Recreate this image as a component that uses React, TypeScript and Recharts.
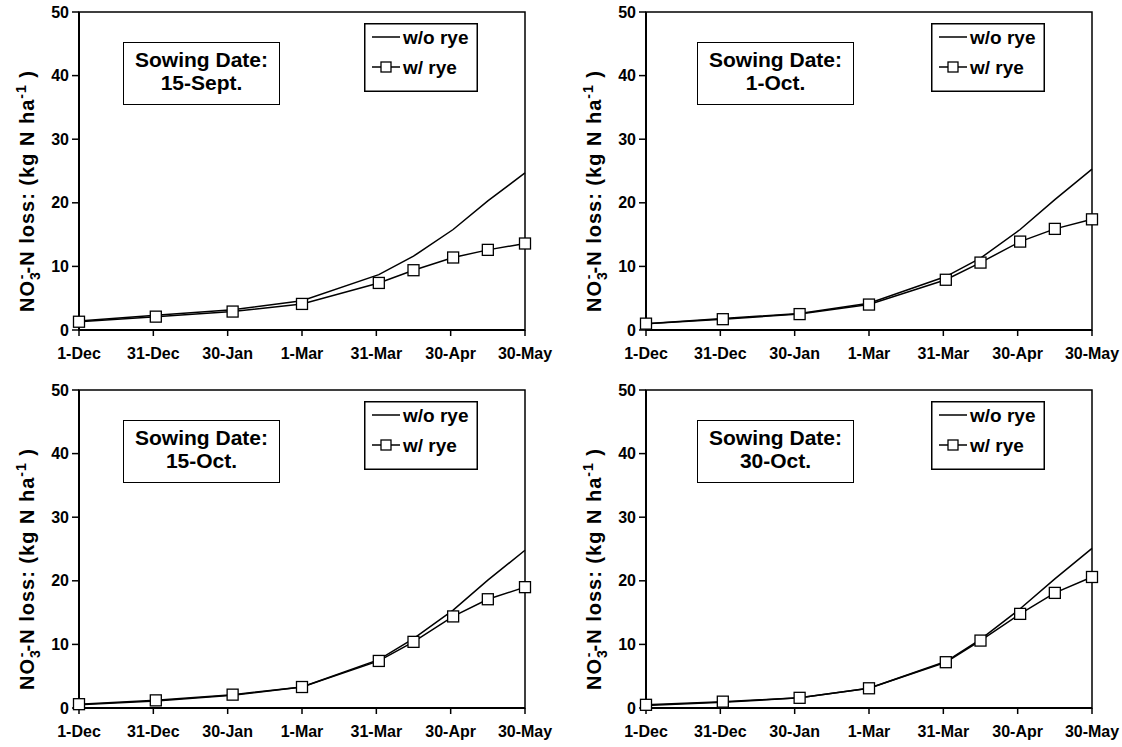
import React from 'react';
import { LineChart, Line, XAxis, YAxis, ReferenceArea } from 'recharts';

// days after 1-Dec for each sample point
const DAYS = [0, 31, 62, 90, 121, 135, 151, 165, 180];
const TICK_DAYS = [0, 30, 60, 90, 120, 150, 180];
const TICK_LABELS = ['1-Dec', '31-Dec', '30-Jan', '1-Mar', '31-Mar', '30-Apr', '30-May'];
const Y_TICKS = [0, 10, 20, 30, 40, 50];

const SOWING_DATES = ['15-Sept.', '1-Oct.', '15-Oct.', '30-Oct.'];

const SEPT15_WITHOUT = [1.4, 2.3, 3.2, 4.6, 8.7, 11.6, 15.8, 20.3, 24.7];
const SEPT15_WITH = [1.3, 2.1, 2.9, 4.1, 7.4, 9.4, 11.4, 12.6, 13.6];
const OCT1_WITHOUT = [1.0, 1.8, 2.6, 4.2, 8.4, 11.3, 15.8, 20.5, 25.3];
const OCT1_WITH = [1.0, 1.7, 2.5, 4.0, 7.9, 10.6, 13.9, 15.9, 17.4];
const OCT15_WITHOUT = [0.5, 1.1, 2.0, 3.3, 7.6, 10.9, 15.4, 20.1, 24.8];
const OCT15_WITH = [0.6, 1.2, 2.1, 3.3, 7.4, 10.4, 14.4, 17.1, 19.0];
const OCT30_WITHOUT = [0.4, 0.9, 1.6, 3.1, 7.3, 10.8, 15.6, 20.3, 25.1];
const OCT30_WITH = [0.5, 1.0, 1.6, 3.1, 7.2, 10.6, 14.8, 18.1, 20.6];

const FONT = '"Liberation Sans", Arial, Helvetica, sans-serif';
const PANEL_W = 561;
const PANEL_H = 370;
const PLOT_TOP = 12;
const PLOT_BOTTOM = 330;

const buildRows = (without: number[], withRye: number[]) =>
  DAYS.map((d, i) => ({ day: d, without: without[i], withRye: withRye[i] }));

const SquareDot = (props: any) => {
  const { cx, cy, index } = props;
  if (cx == null || cy == null) return null;
  return (
    <rect key={`sq-${index}`} x={cx - 5.5} y={cy - 5.5} width={11} height={11}
      fill="#fff" stroke="#000" strokeWidth={1.3} />
  );
};

interface PanelProps {
  left: number;
  top: number;
  marginLeft: number;
  marginRight: number;
  boxDx: number;
  sowing: string;
  without: number[];
  withRye: number[];
}

const Panel: React.FC<PanelProps> = ({ left, top, marginLeft, marginRight, boxDx, sowing, without, withRye }) => {
  const data = buildRows(without, withRye);
  const plotLeft = marginLeft + 50;
  const plotRight = PANEL_W - marginRight;
  const labelX = plotLeft - 45;
  const labelY = PLOT_BOTTOM - 18;
  const tickStyle = { fill: '#000', fontSize: 16, fontWeight: 700, fontFamily: FONT };

  return (
    <div style={{ position: 'absolute', left, top, width: PANEL_W, height: PANEL_H }}>
      <LineChart width={PANEL_W} height={PANEL_H} data={data}
        margin={{ top: PLOT_TOP, right: marginRight, left: marginLeft, bottom: 10 }}>
        <ReferenceArea x1={0} x2={180} y1={0} y2={50} fill="none" stroke="#000" strokeWidth={1.5} />
        <XAxis dataKey="day" type="number" domain={[0, 180]} ticks={TICK_DAYS} interval={0}
          tickFormatter={(v: number) => TICK_LABELS[TICK_DAYS.indexOf(v)]}
          height={30} tickSize={6} tickMargin={12}
          axisLine={{ stroke: '#000', strokeWidth: 2 }} tickLine={{ stroke: '#000', strokeWidth: 1.5 }}
          tick={tickStyle} />
        <YAxis type="number" domain={[0, 50]} ticks={Y_TICKS} interval={0} width={50}
          tickSize={7} tickMargin={3}
          axisLine={{ stroke: '#000', strokeWidth: 2 }} tickLine={{ stroke: '#000', strokeWidth: 1.5 }}
          tick={tickStyle} />
        <Line type="linear" dataKey="without" stroke="#000" strokeWidth={1.5} dot={false} isAnimationActive={false} />
        <Line type="linear" dataKey="withRye" stroke="#000" strokeWidth={1.5} dot={SquareDot} isAnimationActive={false} />
      </LineChart>

      {/* axis title with sub/superscripts */}
      <svg width={PANEL_W} height={PANEL_H} style={{ position: 'absolute', left: 0, top: 0, pointerEvents: 'none' }}>
        <text x={labelX} y={labelY} transform={`rotate(-90 ${labelX} ${labelY})`}
          fontFamily={FONT} fontWeight={700} fontSize={20} letterSpacing={1} fill="#000">
          <tspan>NO</tspan>
          <tspan dy={6} fontSize={14}>3</tspan>
          <tspan dx={-8} dy={-14} fontSize={14}>-</tspan>
          <tspan dy={8}>-N loss: (kg N ha</tspan>
          <tspan dy={-8} fontSize={14}>-1</tspan>
          <tspan dy={8}> )</tspan>
        </text>
      </svg>

      {/* sowing date box */}
      <div style={{
        position: 'absolute', left: plotLeft + boxDx, top: PLOT_TOP + 30, width: 157, height: 63,
        boxSizing: 'border-box', border: '1.5px solid #000', background: '#fff',
        fontFamily: FONT, fontWeight: 700, fontSize: 21, lineHeight: '23px', textAlign: 'center',
        paddingTop: 5,
      }}>
        <div>Sowing Date:</div>
        <div>{sowing}</div>
      </div>

      {/* legend */}
      <svg width={114} height={69} style={{ position: 'absolute', left: plotRight - 47 - 114, top: 23 }}>
        <rect x={0.75} y={0.75} width={112.5} height={67.5} fill="#fff" stroke="#000" strokeWidth={1.5} />
        <line x1={8} y1={14} x2={36} y2={14} stroke="#000" strokeWidth={1.5} />
        <text x={39} y={14} dominantBaseline="central" fontFamily={FONT} fontWeight={700} fontSize={19} fill="#000">w/o rye</text>
        <line x1={8} y1={44} x2={36} y2={44} stroke="#000" strokeWidth={1.5} />
        <rect x={17} y={39} width={10} height={10} fill="#fff" stroke="#000" strokeWidth={1.3} />
        <text x={39} y={44} dominantBaseline="central" fontFamily={FONT} fontWeight={700} fontSize={19} fill="#000">w/ rye</text>
      </svg>
    </div>
  );
};

const App: React.FC = () => {
  return (
    <div style={{ position: 'absolute', left: 0, top: 0, width: 1122, height: 747, background: '#fff' }}>
      <Panel left={0} top={0} marginLeft={29} marginRight={36} boxDx={44}
        sowing={SOWING_DATES[0]} without={SEPT15_WITHOUT} withRye={SEPT15_WITH} />
      <Panel left={561} top={0} marginLeft={35} marginRight={30} boxDx={51}
        sowing={SOWING_DATES[1]} without={OCT1_WITHOUT} withRye={OCT1_WITH} />
      <Panel left={0} top={378} marginLeft={29} marginRight={36} boxDx={44}
        sowing={SOWING_DATES[2]} without={OCT15_WITHOUT} withRye={OCT15_WITH} />
      <Panel left={561} top={378} marginLeft={35} marginRight={30} boxDx={51}
        sowing={SOWING_DATES[3]} without={OCT30_WITHOUT} withRye={OCT30_WITH} />
    </div>
  );
};

export default App;
